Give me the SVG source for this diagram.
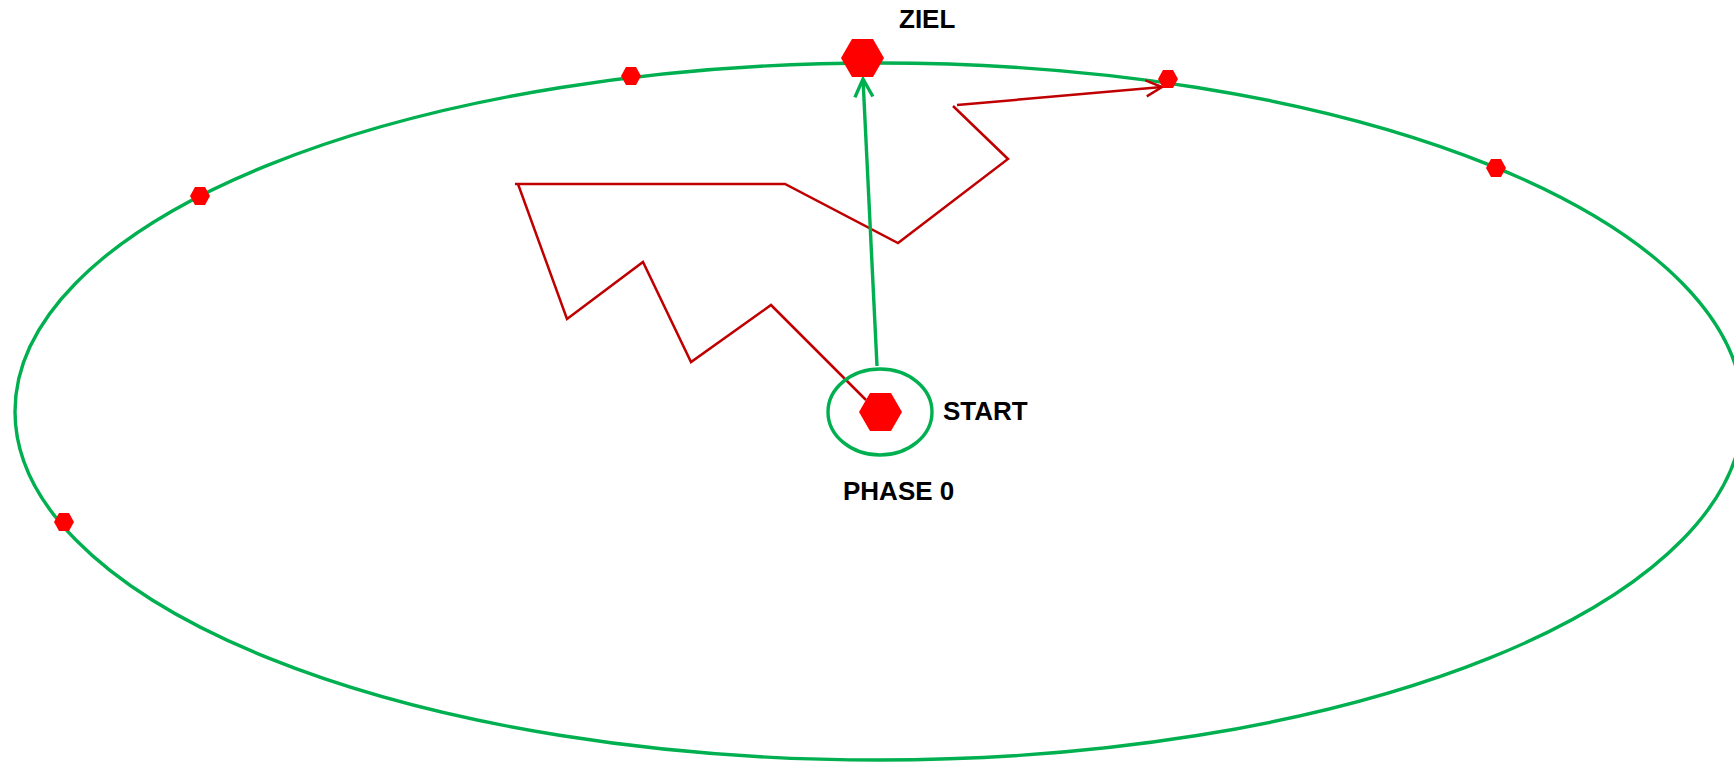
<svg xmlns="http://www.w3.org/2000/svg" width="1734" height="763" viewBox="0 0 1734 763">
<style>
.g{fill:none;stroke:#00B050;stroke-width:3.4}
.r{fill:none;stroke:#C00000;stroke-width:2.5;stroke-linejoin:miter}
.hx{fill:#FF0000}
.t{font-family:"Liberation Sans",Arial,sans-serif;font-weight:bold;font-size:26px;fill:#000}
</style>
<defs>
<marker id="ag" markerWidth="12" markerHeight="12" refX="10" refY="6" orient="auto" markerUnits="userSpaceOnUse" viewBox="0 0 12 12" overflow="visible">
<path d="M-8,-3 L10,6 L-8,15" fill="none" stroke="#00B050" stroke-width="3.4"/>
</marker>
<marker id="ar" markerWidth="12" markerHeight="12" refX="10" refY="6" orient="auto" markerUnits="userSpaceOnUse" viewBox="0 0 12 12" overflow="visible">
<path d="M-6,-2 L10,6 L-6,14" fill="none" stroke="#C00000" stroke-width="2.5"/>
</marker>
</defs>
<rect width="1734" height="763" fill="#fff"/>
<g id="orbit"><ellipse class="g" cx="879" cy="411.5" rx="864" ry="348.5"/></g>
<g id="connectors">
<polyline class="r" points="866,400 771,305 691,362 643,262 567,319 518,184"/>
<polyline class="r" points="515,184 785,184 898,243 1008,159 953,106"/>
<line class="r" x1="957" y1="105" x2="1162" y2="87" marker-end="url(#ar)"/>
<line class="g" x1="877" y1="366" x2="863" y2="79" marker-end="url(#ag)"/>
</g>
<g id="start-node">
<ellipse class="g" cx="880" cy="412" rx="52" ry="43"/>
<polygon class="hx" points="859,412 870,393 891,393 902,412 891,431 870,431"/>
<text class="t" x="943" y="420">START</text>
<text class="t" x="843" y="500">PHASE 0</text>
</g>
<g id="ziel-node">
<polygon class="hx" points="841,58 852,39 873,39 884,58 873,77 852,77"/>
<text class="t" x="899" y="28">ZIEL</text>
</g>
<g id="p1"><polygon class="hx" points="621,76 626,67 636,67 641,76 636,85 626,85"/></g>
<g id="p2"><polygon class="hx" points="190,196 195,187 205,187 210,196 205,205 195,205"/></g>
<g id="p3"><polygon class="hx" points="1158,79 1163,70 1173,70 1178,79 1173,88 1163,88"/></g>
<g id="p4"><polygon class="hx" points="1486,168 1491,159 1501,159 1506,168 1501,177 1491,177"/></g>
<g id="p5"><polygon class="hx" points="54,522 59,513 69,513 74,522 69,531 59,531"/></g>
</svg>
